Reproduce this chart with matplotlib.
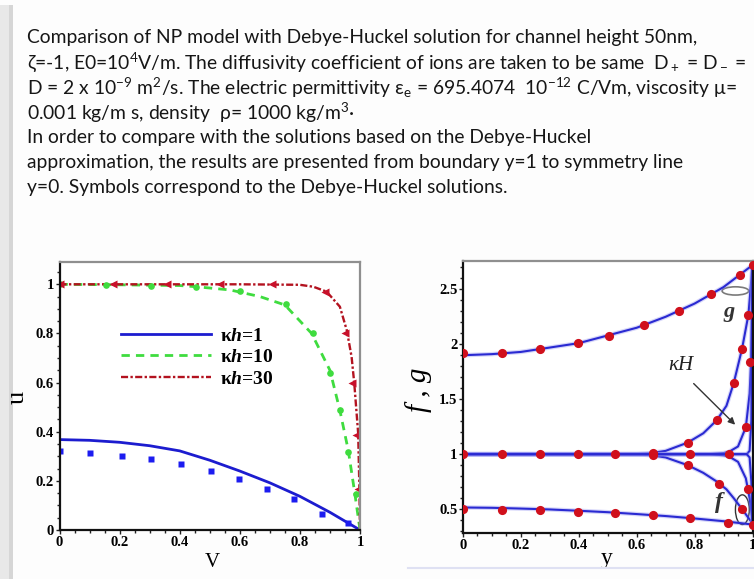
import numpy as np
import matplotlib
matplotlib.use('Agg')
import matplotlib.pyplot as plt
from matplotlib.patches import Ellipse, Rectangle
from matplotlib.lines import Line2D
from matplotlib.ticker import MultipleLocator, FuncFormatter

plt.rcParams['font.family'] = ['Liberation Serif', 'DejaVu Serif']
plt.rcParams['font.weight'] = 'bold'
plt.rcParams['mathtext.fontset'] = 'custom'
plt.rcParams['mathtext.it'] = 'Liberation Serif:italic:bold'
plt.rcParams['mathtext.rm'] = 'Liberation Serif:bold'
plt.rcParams['mathtext.bf'] = 'Liberation Serif:bold'

# slide text
lines = [
    "Comparison of NP model with Debye-Huckel solution for channel height 50nm,",
    r"ζ=-1, E0=10$\mathregular{^4}$V/m. The diffusivity coefficient of ions are taken to be same  D$\mathregular{_+}$ = D$\mathregular{_-}$ =",
    r"D = 2 x 10$\mathregular{^{-9}}$ m$\mathregular{^2}$/s. The electric permittivity ε$\mathregular{_e}$ = 695.4074  10$\mathregular{^{-12}}$ C/Vm, viscosity μ=",
    r"0.001 kg/m s, density  ρ= 1000 kg/m$\mathregular{^3}$·",
    "In order to compare with the solutions based on the Debye-Huckel",
    "approximation, the results are presented from boundary y=1 to symmetry line",
    "y=0. Symbols correspond to the Debye-Huckel solutions.",
]

# left panel: u vs V
v_line = [0, 0.1, 0.2, 0.3, 0.4, 0.5, 0.6, 0.7, 0.8, 0.9, 1.0]
u_kh1 = [0.368, 0.365, 0.357, 0.343, 0.322, 0.284, 0.240, 0.192, 0.137, 0.072, 0.0]
v_kh1_dh = [0, 0.10, 0.207, 0.305, 0.404, 0.504, 0.597, 0.69, 0.781, 0.872, 0.961]
u_kh1_dh = [0.321, 0.314, 0.303, 0.29, 0.269, 0.239, 0.207, 0.167, 0.126, 0.065, 0.027]

v_kh10 = [0, 0.2, 0.4, 0.456, 0.568, 0.667, 0.75, 0.839, 0.9, 0.933, 0.961, 0.983, 1.0]
u_kh10 = [1.0, 0.998, 0.995, 0.99, 0.977, 0.95, 0.916, 0.80, 0.65, 0.487, 0.324, 0.147, 0.0]
v_kh10_dh = [0, 0.155, 0.305, 0.454, 0.6, 0.754, 0.845, 0.90, 0.933, 0.961, 0.986]
u_kh10_dh = [1.0, 0.997, 0.995, 0.99, 0.974, 0.92, 0.802, 0.64, 0.487, 0.317, 0.147]

v_kh30 = [0, 0.2, 0.4, 0.6, 0.8, 0.845, 0.889, 0.933, 0.956, 0.972, 0.981, 0.994, 0.998, 1.0]
u_kh30 = [1, 1, 1, 1, 0.998, 0.99, 0.97, 0.909, 0.813, 0.705, 0.596, 0.392, 0.167, 0.0]
v_kh30_dh = [0, 0.179, 0.357, 0.534, 0.706, 0.884, 0.95, 0.972, 0.987, 0.994]
u_kh30_dh = [1, 1, 1, 1, 1, 0.97, 0.80, 0.60, 0.385, 0.167]

# right panel: f, g vs y
y_s = [0, 0.1, 0.2, 0.3, 0.4, 0.5, 0.6, 0.7, 0.8, 0.9, 1.0]
g_s = [1.90, 1.91, 1.93, 1.97, 2.01, 2.08, 2.15, 2.25, 2.37, 2.52, 2.72]
f_s = [0.515, 0.512, 0.505, 0.497, 0.485, 0.472, 0.455, 0.437, 0.415, 0.39, 0.36]
yg_s_dh = [0, 0.136, 0.266, 0.397, 0.505, 0.626, 0.747, 0.857, 0.956, 1.0]
g_s_dh = [1.918, 1.924, 1.955, 2.009, 2.078, 2.175, 2.306, 2.457, 2.627, 2.72]
yf_s_dh = [0, 0.136, 0.266, 0.397, 0.526, 0.655, 0.785, 0.916, 1.0]
f_s_dh = [0.50, 0.494, 0.491, 0.478, 0.469, 0.442, 0.415, 0.378, 0.36]

y_m = [0, 0.6, 0.65, 0.7, 0.776, 0.83, 0.877, 0.91, 0.935, 0.964, 0.986, 1.0]
g_m = [1.0, 1.0, 1.01, 1.03, 1.105, 1.19, 1.31, 1.44, 1.645, 1.96, 2.27, 2.72]
f_m = [1.0, 1.0, 0.99, 0.97, 0.90, 0.83, 0.75, 0.68, 0.60, 0.50, 0.42, 0.37]
yg_m_dh = [0.655, 0.776, 0.877, 0.935, 0.964, 0.986]
g_m_dh = [1.01, 1.105, 1.31, 1.645, 1.96, 2.27]
yf_m_dh = [0.655, 0.776, 0.886, 0.963]
f_m_dh = [0.99, 0.90, 0.733, 0.503]

y_l = [0, 0.85, 0.9, 0.918, 0.95, 0.977, 0.99, 0.995, 1.0]
g_l = [1.0, 1.0, 1.01, 1.02, 1.07, 1.245, 1.55, 1.84, 2.72]
f_l = [1.0, 1.0, 0.99, 0.98, 0.93, 0.78, 0.60, 0.50, 0.37]
yg_l_dh = [0, 0.136, 0.266, 0.397, 0.526, 0.785, 0.918, 0.977, 0.993]
g_l_dh = [1, 1, 1, 1, 1, 1, 1, 1.245, 1.84]
yf_l_dh = [0.986]
f_l_dh = [0.685]

y_xl = [0, 0.98, 0.99, 0.996, 1.0]
g_xl = [1.0, 1.0, 1.03, 1.3, 2.72]
f_xl = [1.0, 1.0, 0.97, 0.75, 0.37]

fig = plt.figure(figsize=(7.54, 5.79), dpi=100)
fig.patch.set_facecolor('#fdfdfd')

fig.add_artist(Rectangle((0, 0), 9 / 754, 1 - 5 / 579, transform=fig.transFigure,
                         color='#e8e8e8', lw=0, zorder=-5))
fig.add_artist(Rectangle((9 / 754, 0), 4 / 754, 1 - 5 / 579, transform=fig.transFigure,
                         color='#d6d6d6', lw=0, zorder=-5))

for i, s in enumerate(lines):
    fig.text(27 / 754, 1 - (37.3 + 25.1 * i) / 579, s, family=['Lato', 'DejaVu Sans'],
             weight='normal', fontsize=13.9, color='#161616', va='center', ha='left')

fig.add_artist(Line2D([408 / 754, 1], [1 - 568 / 579] * 2, transform=fig.transFigure,
                      color='#dfe1f3', lw=1.5))

fmt = FuncFormatter(lambda v, p: f'{v:g}')

# left panel
ax1 = fig.add_axes([59.5 / 754, 49 / 579, 300.5 / 754, 268.3 / 579])
ax1.plot(v_line, u_kh1, color='#1c1ccf', lw=2, label=r'κ$h$=1')
ax1.plot(v_kh10, u_kh10, color='#3fdc3f', lw=2, ls=(0, (3, 2.2)), label=r'κ$h$=10')
ax1.plot(v_kh30, u_kh30, color='#b3121f', lw=1.7, ls=(0, (3, 1, 1, 1)), label=r'κ$h$=30')
ax1.plot(v_kh1_dh, u_kh1_dh, 's', color='#1c1cf0', ms=5, mec='none')
ax1.plot(v_kh10_dh, u_kh10_dh, 'o', color='#3fdc3f', ms=4.8, mec='none')
ax1.plot(v_kh30_dh, u_kh30_dh, '<', color='#c8102a', ms=5.2, mec='none')
ax1.set_xlim(0, 1)
ax1.set_ylim(0, 1.092)
ax1.legend(loc='upper left', bbox_to_anchor=(0.205, 0.757), frameon=False,
           fontsize=14, handlelength=4.6, handletextpad=0.5, labelspacing=0.2,
           borderpad=0, borderaxespad=0)
ax1.set_xlabel('V', fontsize=15, va='center')
ax1.xaxis.set_label_coords(0.507, -0.12)
ax1.set_ylabel('u', fontsize=19, va='center')
ax1.yaxis.set_label_coords(-0.138, 0.496)

# right panel
ax2 = fig.add_axes([463 / 754, 45.7 / 579, 289.5 / 754, 272.6 / 579])
blue = '#2a2ad2'
for xs, ys in [(y_s, g_s), (y_s, f_s), (y_m, g_m), (y_m, f_m),
               (y_l, g_l), (y_l, f_l), (y_xl, g_xl), (y_xl, f_xl)]:
    ax2.plot(xs, ys, color='#8c8cf0', lw=3.2, alpha=0.35, solid_capstyle='round')
    ax2.plot(xs, ys, color=blue, lw=1.5)
red = '#d0101c'
for xs, ys in [(yg_s_dh, g_s_dh), (yf_s_dh, f_s_dh), (yg_m_dh, g_m_dh),
               (yf_m_dh, f_m_dh), (yg_l_dh, g_l_dh), (yf_l_dh, f_l_dh)]:
    ax2.plot(xs, ys, 'o', color=red, ms=6.6, mec='none', zorder=5)

ax2.add_patch(Ellipse((0.941, 2.485), 0.092, 0.075, fill=False, ec='#7a7a7a', lw=1.2))
ax2.add_patch(Ellipse((0.965, 0.495), 0.048, 0.27, fill=False, ec='#333333', lw=1))
ax2.text(0.918, 2.29, 'g', style='italic', fontsize=16, ha='center', va='center', color='#333')
ax2.text(0.884, 0.56, 'f', style='italic', fontsize=17, ha='center', va='center', color='#333')
ax2.text(0.751, 1.81, 'κH', style='italic', weight='normal', fontsize=15,
         ha='center', va='center', color='#222')
ax2.annotate('', xy=(0.947, 1.25), xytext=(0.79, 1.66),
             arrowprops=dict(arrowstyle='-|>', color='#333333', lw=1, mutation_scale=10))
ax2.set_xlim(0, 1)
ax2.set_ylim(0.28, 2.76)
ax2.set_xlabel('y', fontsize=17, va='center')
ax2.xaxis.set_label_coords(0.496, -0.091)
ax2.set_ylabel('f , g', style='italic', fontsize=21, va='center')
ax2.yaxis.set_label_coords(-0.152, 0.526)

for ax, ymaj, ymin in [(ax1, 0.2, 0.05), (ax2, 0.5, 0.1)]:
    ax.set_facecolor('white')
    ax.xaxis.set_major_locator(MultipleLocator(0.2))
    ax.xaxis.set_minor_locator(MultipleLocator(0.05))
    ax.yaxis.set_major_locator(MultipleLocator(ymaj))
    ax.yaxis.set_minor_locator(MultipleLocator(ymin))
    ax.xaxis.set_major_formatter(fmt)
    ax.yaxis.set_major_formatter(fmt)
    ax.tick_params(which='both', direction='out', width=1, labelsize=10.5, pad=1, color='#222')
    ax.tick_params(which='major', length=3)
    ax.tick_params(which='minor', length=2)
    for side in ['left', 'bottom']:
        ax.spines[side].set_linewidth(1.6)
        ax.spines[side].set_color('#111111')
    for side in ['top', 'right']:
        ax.spines[side].set_linewidth(1.6)
        ax.spines[side].set_color('#8f8f8f')
ax2.spines['right'].set_color('#111111')

fig.savefig('out.png', dpi=100, facecolor=fig.get_facecolor())
